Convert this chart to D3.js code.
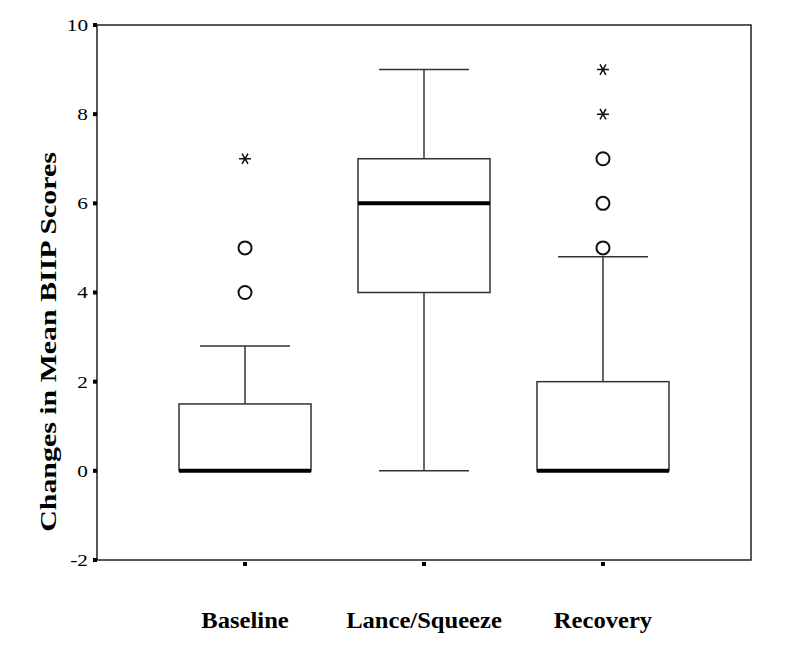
<!DOCTYPE html>
<html>
<head>
<meta charset="utf-8">
<script src="https://cdn.jsdelivr.net/npm/d3@7"></script>
<style>
  body { margin: 0; background: #fff; }
  text { font-family: "Liberation Serif", "Times New Roman", serif; fill: #000; }
</style>
</head>
<body>
<svg id="chart" width="800" height="649"></svg>
<script>
var categories = ["Baseline", "Lance/Squeeze", "Recovery"];
var q1 = [0, 4, 0];
var medians = [0, 6, 0];
var q3 = [1.5, 7, 2];
var whiskerLow = [0, 0, 0];
var whiskerHigh = [2.8, 9, 4.8];
var outliers = [[4, 5], [], [5, 6, 7]];
var extremes = [[7], [], [8, 9]];
var yTicks = [-2, 0, 2, 4, 6, 8, 10];

var svg = d3.select("#chart"),
    margin = {top: 25, right: 49, bottom: 89, left: 97},
    width = 800 - margin.left - margin.right,
    height = 649 - margin.top - margin.bottom;

var x = d3.scalePoint().domain(categories).range([0, width]).padding(0.827),
    y = d3.scaleLinear().domain([-2, 10]).range([height, 0]);

var g = svg.append("g")
    .attr("transform", "translate(" + margin.left + "," + margin.top + ")");

var boxW = 132, capW = 90;

var data = categories.map(function(c, i) {
  return {name: c, q1: q1[i], med: medians[i], q3: q3[i], lo: whiskerLow[i], hi: whiskerHigh[i],
          out: outliers[i], ext: extremes[i]};
});

// frame
g.append("rect")
    .attr("width", width).attr("height", height)
    .attr("fill", "none").attr("stroke", "#222").attr("stroke-width", 1.5);

var box = g.selectAll(".box").data(data).enter().append("g")
    .attr("class", "box")
    .attr("transform", function(d) { return "translate(" + x(d.name) + ",0)"; });

// whiskers
box.append("line")
    .attr("y1", function(d) { return y(d.q3); }).attr("y2", function(d) { return y(d.hi); })
    .attr("stroke", "#333").attr("stroke-width", 1.5);
box.append("line")
    .attr("y1", function(d) { return y(d.q1); }).attr("y2", function(d) { return y(d.lo); })
    .attr("stroke", "#333").attr("stroke-width", 1.5);
box.append("line")
    .attr("x1", -capW / 2).attr("x2", capW / 2)
    .attr("y1", function(d) { return y(d.hi); }).attr("y2", function(d) { return y(d.hi); })
    .attr("stroke", "#333").attr("stroke-width", 1.5);
box.append("line")
    .attr("x1", -capW / 2).attr("x2", capW / 2)
    .attr("y1", function(d) { return y(d.lo); }).attr("y2", function(d) { return y(d.lo); })
    .attr("stroke", "#333").attr("stroke-width", 1.5);

box.append("rect")
    .attr("x", -boxW / 2).attr("width", boxW)
    .attr("y", function(d) { return y(d.q3); })
    .attr("height", function(d) { return y(d.q1) - y(d.q3); })
    .attr("fill", "#fff").attr("stroke", "#333").attr("stroke-width", 1.5);

box.append("line")
    .attr("x1", -boxW / 2).attr("x2", boxW / 2)
    .attr("y1", function(d) { return y(d.med); }).attr("y2", function(d) { return y(d.med); })
    .attr("stroke", "#000").attr("stroke-width", 4);

// outliers
box.selectAll(".out").data(function(d) { return d.out; }).enter().append("circle")
    .attr("cy", function(v) { return y(v); })
    .attr("r", 6.5)
    .attr("fill", "#fff").attr("stroke", "#111").attr("stroke-width", 2);

var star = d3.symbol().type(d3.symbolAsterisk).size(100);
box.selectAll(".ext").data(function(d) { return d.ext; }).enter().append("path")
    .attr("d", star)
    .attr("transform", function(v) { return "translate(0," + y(v) + ") rotate(90)"; })
    .attr("fill", "none").attr("stroke", "#111").attr("stroke-width", 1.5);

// y axis ticks
var yAxis = g.append("g").attr("class", "axis axis--y");
yAxis.selectAll("rect").data(yTicks).enter().append("rect")
    .attr("x", -4).attr("y", function(v) { return y(v) - 2; })
    .attr("width", 4).attr("height", 4).attr("fill", "#000");
yAxis.selectAll("text").data(yTicks).enter().append("text")
    .attr("transform", function(v) { return "translate(-9," + y(v) + ") scale(1.25,1)"; })
    .attr("dy", "0.35em")
    .style("font-size", "17px")
    .style("text-anchor", "end")
    .text(function(v) { return v; });

// x axis ticks
var xAxis = g.append("g").attr("class", "axis axis--x")
    .attr("transform", "translate(0," + height + ")");
xAxis.selectAll("rect").data(categories).enter().append("rect")
    .attr("x", function(c) { return x(c) - 2; }).attr("y", 2)
    .attr("width", 4).attr("height", 4).attr("fill", "#000");
xAxis.selectAll("text").data(categories).enter().append("text")
    .attr("transform", function(c) { return "translate(" + x(c) + ",68) scale(1.07,1)"; })
    .style("font-size", "23px").style("font-weight", "bold")
    .style("text-anchor", "middle")
    .text(function(c) { return c; });

// y label
svg.append("text")
    .attr("transform", "translate(56,342) rotate(-90) scale(1.3,1)")
    .style("font-size", "23px").style("font-weight", "bold")
    .style("text-anchor", "middle")
    .text("Changes in Mean BIIP Scores");
</script>
</body>
</html>
